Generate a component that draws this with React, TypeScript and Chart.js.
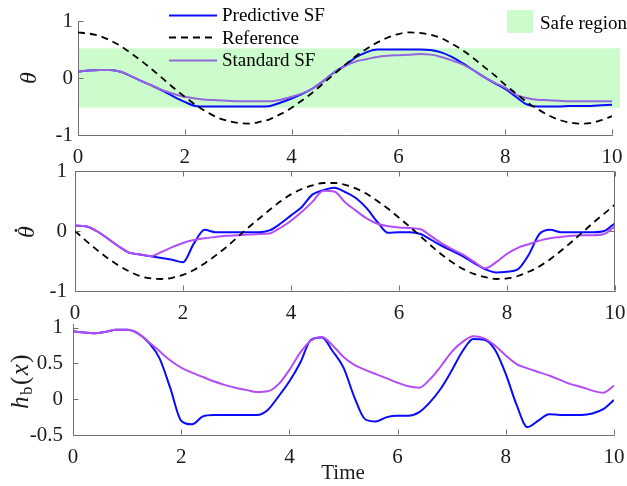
import React, { useEffect, useRef } from 'react';
import { Chart, registerables } from 'chart.js';

Chart.register(...registerables);

// ---------------- data ----------------
const TIME = [0, 0.2, 0.4, 0.6, 0.8, 1, 1.2, 1.4, 1.6, 1.8, 2, 2.2, 2.4, 2.6, 2.8, 3, 3.2, 3.4, 3.6, 3.8, 4, 4.2, 4.4, 4.6, 4.8, 5, 5.2, 5.4, 5.6, 5.8, 6, 6.2, 6.4, 6.6, 6.8, 7, 7.2, 7.4, 7.6, 7.8, 8, 8.2, 8.4, 8.6, 8.8, 9, 9.2, 9.4, 9.6, 9.8, 10];

const X_TICKS = [0, 2, 4, 6, 8, 10];
const THETA_TICKS = [-1, 0, 1];
const DTHETA_TICKS = [-1, 0, 1];
const H_TICKS = [-0.5, 0, 0.5, 1];

const SERIES_NAMES = ['Predictive SF', 'Reference', 'Standard SF'];
const SAFE_LABEL = 'Safe region';
const SAFE_BAND = [-0.52, 0.52];
const SAFE_BAND_X = [0, 10.15];

// panel 1: theta
const THETA_PRED = [0.11, 0.13, 0.14, 0.14, 0.11, 0.03, -0.06, -0.14, -0.23, -0.33, -0.42, -0.49, -0.50, -0.50, -0.50, -0.50, -0.50, -0.50, -0.49, -0.43, -0.36, -0.28, -0.18, -0.05, 0.10, 0.22, 0.36, 0.45, 0.50, 0.50, 0.50, 0.50, 0.50, 0.49, 0.45, 0.37, 0.26, 0.14, 0.02, -0.09, -0.19, -0.33, -0.46, -0.50, -0.50, -0.50, -0.49, -0.49, -0.49, -0.48, -0.47];
const THETA_REF = [0.80, 0.78, 0.74, 0.66, 0.56, 0.43, 0.29, 0.14, -0.02, -0.18, -0.33, -0.47, -0.59, -0.69, -0.75, -0.79, -0.80, -0.77, -0.72, -0.63, -0.52, -0.39, -0.25, -0.09, 0.07, 0.23, 0.38, 0.51, 0.62, 0.71, 0.77, 0.80, 0.79, 0.76, 0.70, 0.60, 0.49, 0.35, 0.20, 0.05, -0.12, -0.27, -0.42, -0.54, -0.65, -0.73, -0.78, -0.80, -0.79, -0.74, -0.67];
const THETA_STD = [0.11, 0.13, 0.14, 0.14, 0.11, 0.03, -0.06, -0.14, -0.22, -0.28, -0.33, -0.36, -0.38, -0.39, -0.40, -0.41, -0.41, -0.41, -0.41, -0.38, -0.33, -0.27, -0.18, -0.05, 0.10, 0.21, 0.29, 0.33, 0.37, 0.39, 0.40, 0.41, 0.42, 0.41, 0.37, 0.31, 0.24, 0.14, 0.02, -0.08, -0.17, -0.29, -0.35, -0.38, -0.39, -0.40, -0.41, -0.41, -0.41, -0.41, -0.41];

// panel 2: theta dot
const DTHETA_PRED = [0.09, 0.08, 0.00, -0.12, -0.25, -0.36, -0.39, -0.42, -0.45, -0.48, -0.52, -0.21, 0.02, -0.02, -0.02, -0.02, -0.02, -0.02, 0.01, 0.12, 0.26, 0.40, 0.61, 0.68, 0.72, 0.65, 0.55, 0.38, 0.15, -0.03, -0.02, -0.02, -0.05, -0.15, -0.25, -0.34, -0.43, -0.54, -0.64, -0.69, -0.68, -0.64, -0.40, -0.05, 0.02, -0.02, -0.02, -0.02, -0.02, 0.00, 0.13];
const DTHETA_REF = [0, -0.16, -0.31, -0.45, -0.57, -0.67, -0.75, -0.79, -0.80, -0.78, -0.73, -0.65, -0.54, -0.41, -0.27, -0.11, 0.05, 0.20, 0.35, 0.49, 0.61, 0.70, 0.76, 0.80, 0.80, 0.77, 0.71, 0.62, 0.50, 0.37, 0.22, 0.07, -0.09, -0.25, -0.40, -0.53, -0.64, -0.72, -0.77, -0.80, -0.79, -0.75, -0.68, -0.59, -0.47, -0.33, -0.18, -0.02, 0.14, 0.29, 0.44];
const DTHETA_STD = [0.09, 0.08, 0.00, -0.12, -0.25, -0.36, -0.39, -0.42, -0.35, -0.27, -0.20, -0.15, -0.12, -0.10, -0.08, -0.07, -0.06, -0.05, -0.04, 0.05, 0.17, 0.32, 0.49, 0.67, 0.66, 0.48, 0.34, 0.21, 0.12, 0.08, 0.06, 0.05, 0.03, -0.09, -0.21, -0.31, -0.40, -0.52, -0.62, -0.52, -0.38, -0.28, -0.22, -0.16, -0.12, -0.10, -0.08, -0.07, -0.07, -0.05, 0.08];

// panel 3: h_b(x)
const H_PRED = [0.95, 0.93, 0.92, 0.94, 0.97, 0.97, 0.92, 0.79, 0.57, 0.15, -0.30, -0.35, -0.24, -0.22, -0.22, -0.22, -0.22, -0.22, -0.15, 0.04, 0.25, 0.51, 0.83, 0.86, 0.67, 0.44, 0.03, -0.28, -0.31, -0.25, -0.23, -0.23, -0.18, -0.04, 0.15, 0.40, 0.67, 0.84, 0.83, 0.69, 0.35, -0.08, -0.39, -0.30, -0.21, -0.22, -0.22, -0.22, -0.20, -0.14, -0.01];
const H_STD = [0.95, 0.93, 0.92, 0.94, 0.97, 0.97, 0.92, 0.80, 0.67, 0.54, 0.44, 0.37, 0.31, 0.25, 0.20, 0.16, 0.13, 0.10, 0.11, 0.21, 0.41, 0.65, 0.82, 0.87, 0.75, 0.59, 0.48, 0.41, 0.35, 0.29, 0.23, 0.18, 0.16, 0.28, 0.46, 0.66, 0.80, 0.88, 0.85, 0.75, 0.61, 0.49, 0.43, 0.38, 0.33, 0.27, 0.21, 0.17, 0.12, 0.09, 0.19];

// ---------------- styles ----------------
const W = 627;
const FONT = "'Liberation Serif', 'Times New Roman', serif";
const AXIS_COLOR = '#707070';
const TEXT_COLOR = '#1c1c1c';
const BLUE = '#0a0aff';
const PURPLE_TOP = '#9466dd';
const PURPLE = '#b24ef7';
const GREEN = '#ccfccc';

const pts = (vals: number[]) => TIME.map((t, i) => ({ x: t, y: vals[i] }));

function lineDs(label: string, vals: number[], color: string, order: number, dashed = false) {
  return {
    label,
    data: pts(vals),
    borderColor: color,
    backgroundColor: color,
    borderWidth: dashed ? 1.8 : 2,
    borderDash: dashed ? [7, 5] : [],
    pointRadius: 0,
    fill: false,
    order,
    cubicInterpolationMode: 'monotone',
  };
}

type Area = { left: number; right: number; top: number; bottom: number };
type PanelCfg = {
  top: number;
  height: number;
  area: Area;
  yMin: number;
  yMax: number;
  yTicks: number[];
  yPad: number;
  box: boolean;
  datasets: any[];
  before?: (chart: any, ctx: CanvasRenderingContext2D, top: number) => void;
  after?: (chart: any, ctx: CanvasRenderingContext2D, top: number) => void;
};

function drawAxesDecor(chart: any, box: boolean) {
  const ctx: CanvasRenderingContext2D = chart.ctx;
  const { left, right, top, bottom } = chart.chartArea;
  const xs = chart.scales.x;
  const ys = chart.scales.y;
  const L = 5;
  ctx.save();
  ctx.strokeStyle = AXIS_COLOR;
  ctx.lineWidth = 1;
  ctx.beginPath();
  const xl = Math.round(left) + 0.5;
  const xr = Math.round(right) - 0.5;
  const yb = Math.round(bottom) - 0.5;
  const yt = Math.round(top) + 0.5;
  xs.ticks.forEach((t: any) => {
    const px = Math.round(xs.getPixelForValue(t.value)) + 0.5;
    if (Math.abs(px - xl) < 2) return;
    ctx.moveTo(px, yb);
    ctx.lineTo(px, yb - L);
    if (box) {
      ctx.moveTo(px, yt);
      ctx.lineTo(px, yt + L);
    }
  });
  ys.ticks.forEach((t: any) => {
    const py = Math.round(ys.getPixelForValue(t.value)) + 0.5;
    if (Math.abs(py - yb) < 2) return;
    ctx.moveTo(xl, py);
    ctx.lineTo(xl + L, py);
    if (box) {
      ctx.moveTo(xr, py);
      ctx.lineTo(xr - L, py);
    }
  });
  if (box) {
    ctx.moveTo(xl, yt);
    ctx.lineTo(xr, yt);
    ctx.lineTo(xr, yb);
  }
  ctx.stroke();
  ctx.restore();
}

function makeChart(canvas: HTMLCanvasElement, cfg: PanelCfg) {
  const localTop = cfg.area.top - cfg.top;
  const localBottom = cfg.area.bottom - cfg.top;
  const xH = cfg.height - localBottom;
  const zeroPad = (s: any) => {
    s.paddingLeft = 0;
    s.paddingRight = 0;
    s.paddingTop = 0;
    s.paddingBottom = 0;
  };
  const tickFont = { family: FONT, size: 21 };
  return new Chart(canvas, {
    type: 'line',
    data: { datasets: cfg.datasets },
    options: {
      animation: false,
      responsive: false,
      maintainAspectRatio: false,
      devicePixelRatio: 1,
      events: [],
      layout: { padding: { top: localTop, right: W - cfg.area.right, left: 0, bottom: 0 } },
      plugins: { legend: { display: false }, tooltip: { enabled: false }, title: { display: false } },
      elements: { point: { radius: 0 } },
      scales: {
        x: {
          type: 'linear',
          min: 0,
          max: 10,
          grid: { display: true, drawOnChartArea: false, drawTicks: false },
          border: { display: true, color: AXIS_COLOR, width: 1 },
          ticks: {
            padding: 10,
            color: TEXT_COLOR,
            font: tickFont,
            maxRotation: 0,
            autoSkip: false,
            includeBounds: false,
            callback: (v: any) => String(v),
          },
          afterBuildTicks: (s: any) => {
            s.ticks = X_TICKS.map((v) => ({ value: v }));
          },
          afterFit: (s: any) => {
            s.height = xH;
            zeroPad(s);
          },
        },
        y: {
          type: 'linear',
          min: cfg.yMin,
          max: cfg.yMax,
          grid: { display: true, drawOnChartArea: false, drawTicks: false },
          border: { display: true, color: AXIS_COLOR, width: 1 },
          ticks: {
            padding: cfg.yPad,
            color: TEXT_COLOR,
            font: tickFont,
            autoSkip: false,
            includeBounds: false,
            callback: (v: any) => String(v),
          },
          afterBuildTicks: (s: any) => {
            s.ticks = cfg.yTicks.map((v) => ({ value: v }));
          },
          afterFit: (s: any) => {
            s.width = cfg.area.left;
            zeroPad(s);
          },
        },
      },
    } as any,
    plugins: [
      {
        id: 'panelDecor',
        beforeDraw(chart: any) {
          if (cfg.before) cfg.before(chart, chart.ctx, cfg.top);
        },
        afterDraw(chart: any) {
          drawAxesDecor(chart, cfg.box);
          if (cfg.after) cfg.after(chart, chart.ctx, cfg.top);
        },
      },
    ],
  });
}

function drawRotated(ctx: CanvasRenderingContext2D, x: number, y: number, fn: () => void) {
  ctx.save();
  ctx.translate(x, y);
  ctx.rotate(-Math.PI / 2);
  fn();
  ctx.restore();
}

export default function App() {
  const c1 = useRef<HTMLCanvasElement>(null);
  const c2 = useRef<HTMLCanvasElement>(null);
  const c3 = useRef<HTMLCanvasElement>(null);

  const P1 = { top: 0, height: 178 };
  const P2 = { top: 150, height: 180 };
  const P3 = { top: 300, height: 186 };

  useEffect(() => {
    const charts: Chart[] = [];

    // ---- panel 1
    charts.push(
      makeChart(c1.current!, {
        ...P1,
        area: { left: 78, right: 612, top: 21, bottom: 135 },
        yMin: -1,
        yMax: 1,
        yTicks: THETA_TICKS,
        yPad: 5,
        box: false,
        datasets: [
          lineDs(SERIES_NAMES[0], THETA_PRED, BLUE, 2),
          lineDs(SERIES_NAMES[1], THETA_REF, '#000000', 0, true),
          lineDs(SERIES_NAMES[2], THETA_STD, PURPLE_TOP, 1),
        ],
        before: (chart, ctx) => {
          const xs = chart.scales.x;
          const ys = chart.scales.y;
          const x0 = xs.getPixelForValue(SAFE_BAND_X[0]);
          const x1 = xs.getPixelForValue(SAFE_BAND_X[1]);
          const y0 = ys.getPixelForValue(SAFE_BAND[1]);
          const y1 = ys.getPixelForValue(SAFE_BAND[0]);
          ctx.save();
          ctx.fillStyle = GREEN;
          ctx.fillRect(x0, y0, x1 - x0, y1 - y0);
          ctx.restore();
        },
        after: (chart, ctx, top) => {
          // y label
          drawRotated(ctx, 30, 78 - top, () => {
            ctx.font = `italic 24px ${FONT}`;
            ctx.fillStyle = TEXT_COLOR;
            ctx.textAlign = 'center';
            ctx.textBaseline = 'middle';
            ctx.fillText('θ', 0, 0);
          });
          // legend
          ctx.save();
          ctx.font = `19px ${FONT}`;
          ctx.textBaseline = 'alphabetic';
          ctx.textAlign = 'left';
          const baselines = [21, 43.5, 66];
          chart.data.datasets.forEach((ds: any, i: number) => {
            const yb = baselines[i] - top;
            const yl = Math.round(yb - 6.5) + 0.5;
            ctx.strokeStyle = ds.borderColor;
            ctx.lineWidth = ds.borderWidth;
            ctx.setLineDash(ds.borderDash || []);
            ctx.beginPath();
            ctx.moveTo(169, yl);
            ctx.lineTo(217, yl);
            ctx.stroke();
            ctx.setLineDash([]);
            ctx.fillStyle = '#000';
            ctx.fillText(ds.label, 222, yb);
          });
          // safe region legend
          ctx.fillStyle = GREEN;
          ctx.fillRect(507, 10 - top, 26, 23);
          ctx.fillStyle = '#000';
          ctx.fillText(SAFE_LABEL, 540, 28.5 - top);
          ctx.restore();
        },
      })
    );

    // ---- panel 2
    charts.push(
      makeChart(c2.current!, {
        ...P2,
        area: { left: 75, right: 615, top: 171, bottom: 291 },
        yMin: -1,
        yMax: 1,
        yTicks: DTHETA_TICKS,
        yPad: 8,
        box: true,
        datasets: [
          lineDs(SERIES_NAMES[0], DTHETA_PRED, BLUE, 2),
          lineDs(SERIES_NAMES[1], DTHETA_REF, '#000000', 0, true),
          lineDs(SERIES_NAMES[2], DTHETA_STD, PURPLE, 1),
        ],
        after: (chart, ctx, top) => {
          drawRotated(ctx, 28, 232 - top, () => {
            ctx.font = `italic 24px ${FONT}`;
            ctx.fillStyle = TEXT_COLOR;
            ctx.textAlign = 'center';
            ctx.textBaseline = 'middle';
            ctx.fillText('θ', 0, 0);
            ctx.beginPath();
            ctx.arc(1.5, -12, 1.4, 0, Math.PI * 2);
            ctx.fill();
          });
        },
      })
    );

    // ---- panel 3
    charts.push(
      makeChart(c3.current!, {
        ...P3,
        area: { left: 73, right: 614, top: 324, bottom: 435 },
        yMin: -0.5,
        yMax: 1.05,
        yTicks: H_TICKS,
        yPad: 10,
        box: false,
        datasets: [
          lineDs(SERIES_NAMES[0], H_PRED, BLUE, 2),
          lineDs(SERIES_NAMES[2], H_STD, PURPLE, 1),
        ],
        after: (chart, ctx, top) => {
          drawRotated(ctx, 21, 381 - top, () => {
            ctx.fillStyle = TEXT_COLOR;
            ctx.textBaseline = 'alphabetic';
            ctx.textAlign = 'left';
            const parts: [string, string, number][] = [
              ['h', `italic 25px ${FONT}`, 0],
              ['b', `17px ${FONT}`, 4],
              ['(', `25px ${FONT}`, 0],
              ['x', `italic 25px ${FONT}`, 0],
              [')', `25px ${FONT}`, 0],
            ];
            let total = 0;
            const widths = parts.map(([s, f]) => {
              ctx.font = f;
              const w = ctx.measureText(s).width + 1.5;
              total += w;
              return w;
            });
            let u = -total / 2;
            parts.forEach(([s, f, dy], i) => {
              ctx.font = f;
              ctx.fillText(s, u, 7 + dy);
              u += widths[i];
            });
          });
          ctx.save();
          ctx.font = `21px ${FONT}`;
          ctx.fillStyle = TEXT_COLOR;
          ctx.textAlign = 'center';
          ctx.textBaseline = 'middle';
          ctx.fillText('Time', 343, 473 - top);
          ctx.restore();
        },
      })
    );

    return () => {
      charts.forEach((c) => c.destroy());
    };
  }, []);

  const cs = (top: number): React.CSSProperties => ({ position: 'absolute', left: 0, top, display: 'block' });

  return (
    <div style={{ position: 'fixed', left: 0, top: 0, width: W, height: 486, background: '#fff', overflow: 'hidden' }}>
      <canvas ref={c1} width={W} height={P1.height} style={cs(P1.top)} />
      <canvas ref={c2} width={W} height={P2.height} style={cs(P2.top)} />
      <canvas ref={c3} width={W} height={P3.height} style={cs(P3.top)} />
    </div>
  );
}
